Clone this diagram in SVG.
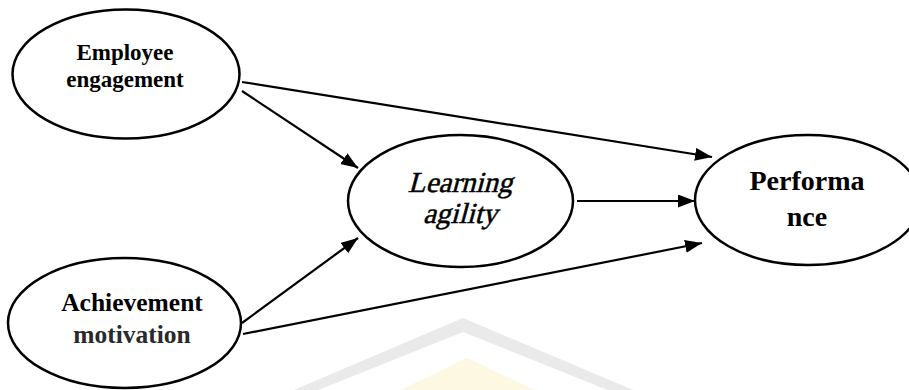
<svg xmlns="http://www.w3.org/2000/svg" width="909" height="390" viewBox="0 0 909 390">
<style>
.node ellipse{fill:#fff;stroke:#000;stroke-width:2.5}
.lbl{font-family:"Liberation Serif","Times New Roman",serif;font-weight:bold;fill:#000;text-anchor:middle}
.ital{font-family:"Liberation Serif","Times New Roman",serif;fill:#000;stroke:#000;stroke-width:0.5;text-anchor:middle}
.conn line{stroke:#000;stroke-width:2.2;fill:none}
</style>
<defs>
<marker id="ah" markerUnits="userSpaceOnUse" markerWidth="18" markerHeight="14" refX="17" refY="6.5" orient="auto">
<path d="M0,0 L17,6.5 L0,13 z" fill="#000"/>
</marker>
</defs>
<rect width="909" height="390" fill="#fff"/>
<g id="watermark" opacity="0.8">
<polygon points="463,318 645,395 620,395 463,332 306,395 282,395" fill="#e6e6e6"/>
<polygon points="467,358 545,395 390,395" fill="#fcf7dc"/>
</g>
<g class="conn" id="connectors">
<line x1="242" y1="82" x2="712" y2="157" marker-end="url(#ah)"/>
<line x1="242" y1="91" x2="358" y2="168" marker-end="url(#ah)"/>
<line x1="242" y1="323" x2="358" y2="238" marker-end="url(#ah)"/>
<line x1="243" y1="334" x2="702" y2="243" marker-end="url(#ah)"/>
<line x1="577" y1="201" x2="695" y2="201" marker-end="url(#ah)"/>
</g>
<g class="node" id="employee">
<ellipse cx="126" cy="74" rx="113.5" ry="64.5"/>
<text class="lbl" x="125" y="60" font-size="23">Employee</text>
<text class="lbl" x="125" y="87" font-size="23">engagement</text>
</g>
<g class="node" id="achievement">
<ellipse cx="124.5" cy="323" rx="116.5" ry="65"/>
<text class="lbl" x="132" y="311" font-size="25.5">Achievement</text>
<text class="lbl" x="132" y="343" font-size="25.5" style="fill:#2a2a2a">motivation</text>
</g>
<g class="node" id="learning">
<ellipse cx="460.5" cy="201" rx="112.5" ry="66"/>
<text class="ital" font-size="29" transform="translate(460,192) skewX(-15)">Learning</text>
<text class="ital" font-size="29" transform="translate(460,223) skewX(-15)">agility</text>
</g>
<g class="node" id="performance">
<ellipse cx="808" cy="200" rx="113" ry="65"/>
<text class="lbl" x="807" y="190" font-size="28">Performa</text>
<text class="lbl" x="807" y="226" font-size="28">nce</text>
</g>
</svg>
